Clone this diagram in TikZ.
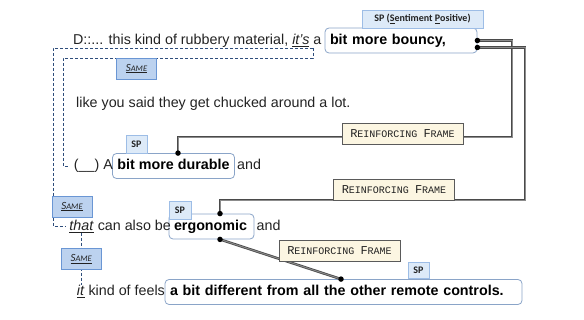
\documentclass[tikz,border=0pt]{standalone}
\usepackage{fontspec}
\setmainfont{Liberation Sans}
\newfontfamily\tagfont{Carlito}
\newfontfamily\framefont{Liberation Mono}
\usetikzlibrary{positioning}

\definecolor{txtcol}{HTML}{222222}
\definecolor{boxedge}{HTML}{8AA4C8}
\definecolor{spfill}{HTML}{DDEAF8}
\definecolor{spedge}{HTML}{9DBDE6}
\definecolor{samefill}{HTML}{BCD2EF}
\definecolor{sameedge}{HTML}{6A96D4}
\definecolor{samedash}{HTML}{2E4D7B}
\definecolor{rffill}{HTML}{FCF6E2}
\definecolor{rfedge}{HTML}{5A5A5A}
\definecolor{linkdark}{HTML}{4A4A4A}
\definecolor{linklight}{HTML}{8C8C8C}

\newcommand{\rfname}{{\framefont\fontsize{12}{12}\selectfont R\fontsize{10}{12}\selectfont EINFORCING \fontsize{12}{12}\selectfont F\fontsize{10}{12}\selectfont RAME}}
\newcommand{\samename}{{\tagfont\itshape\underline{\fontsize{11}{12}\selectfont S\fontsize{8.5}{12}\selectfont AME}}}

\tikzset{
  txt/.style={inner sep=0pt, text=txtcol, font=\fontsize{14.3}{16}\selectfont},
  spbox/.style={draw=boxedge, line width=0.8pt, rounded corners=4pt, fill=white,
    inner xsep=5pt, inner ysep=5.75pt, text height=10.5pt, text depth=3pt,
    align=left, text=black, font=\bfseries\fontsize{14.3}{16}\selectfont},
  sptag/.style={draw=spedge, fill=spfill, line width=0.6pt, inner sep=0pt,
    minimum height=18pt, text=txtcol, font=\tagfont\bfseries\fontsize{10}{12}\selectfont},
  sametag/.style={draw=sameedge, fill=samefill, line width=0.6pt, solid, inner sep=0pt,
    minimum width=40pt, minimum height=21pt, text=txtcol},
  rftag/.style={draw=rfedge, fill=rffill, line width=0.6pt, inner sep=0pt,
    minimum width=121pt, minimum height=21pt, text=txtcol},
  rflink/.style={draw=linkdark, double=linklight, double distance=0.9pt, line width=0.8pt},
  samelink/.style={draw=samedash, line width=0.7pt, dash pattern=on 3pt off 2pt},
  tipdot/.style={circle, fill=black, inner sep=0pt, minimum size=5.5pt},
}

\begin{document}
\begin{tikzpicture}[x=1pt, y=-1pt]
\useasboundingbox (0,0) rectangle (584,320);

% phrase boxes
\node[spbox, text width=142pt] (bouncy) at (401,40.5) {bit more bouncy,};
\node[spbox, minimum width=121pt] (durable) at (173.5,166) {bit more durable};
\node[spbox, text width=75pt] (ergo) at (211.5,226.5) {ergonomic};
\node[spbox, text width=347pt] (diff) at (343.5,292) {a bit different from all the other remote controls.};

% running text
\node[txt, anchor=base east] (l1) at ([xshift=-3pt]bouncy.base west) {D::... this kind of rubbery material, \underline{\textit{it's}} a};
\node[txt, anchor=base west] (l2) at (76,108) {like you said they get chucked around a lot.};
\node[txt, anchor=base east] (l3) at ([xshift=1pt]durable.base west) {(\_\_) A};
\node[txt, anchor=base west] (and1) at ([xshift=2pt]durable.base east) {and};
\node[txt, anchor=base east] (l4) at ([xshift=2.5pt]ergo.base west) {\underline{\textit{that}} can also be};
\node[txt, anchor=base west] (and2) at ([xshift=2pt]ergo.base east) {and};
\node[txt, anchor=base east] (l5) at ([xshift=0.5pt]diff.base west) {\underline{\textit{it}} kind of feels};

% sentiment tags
\node[sptag, minimum width=121pt] (sp1) at (422.5,19) {SP (\underline{S}entiment \underline{P}ositive)};
\node[sptag, minimum width=21pt] (sp2) at (136.5,144) {SP};
\node[sptag, minimum width=22pt] (sp3) at (180,210) {SP};
\node[sptag, minimum width=21pt, minimum height=16pt] (sp4) at (418.5,270) {SP};

% reinforcing frames
\coordinate (b1) at (bouncy.east);
\coordinate (b2) at ([yshift=-7pt]bouncy.east);
\coordinate (d1) at ([xshift=4.5pt]durable.north);
\coordinate (e1) at ([xshift=8.5pt]ergo.north);
\coordinate (e2) at ([xshift=8.5pt]ergo.south);
\coordinate (f1) at ([xshift=-2.5pt]diff.north);

\draw[rflink] (b1) -| (512,137) -| (d1);
\draw[rflink] (b2) -| (525,200) -| (e1);
\draw[rflink] (e2) -- (f1);

\node[rftag] (rf1) at (402.5,133.5) {\rfname};
\node[rftag] (rf2) at (394,190) {\rfname};
\node[rftag] (rf3) at (339.5,250.5) {\rfname};

\foreach \p in {b1,b2,d1,e1,e2,f1}
  \node[tipdot] at (\p) {};

% same-referent links
\coordinate (its) at (313,48);
\draw[samelink] (its) -- (53,48) |- ([xshift=-4pt]l4.west);
\draw[samelink] (its) -- (313,58) -- (63,58) |- ([xshift=-5pt]l3.west);
\draw[samelink] ([xshift=12pt]l4.south west) -- ([xshift=12pt]l4.south west |- l5.north)
  node[midway, sametag] (same3) {\samename};

\node[sametag] (same1) at (136.5,68.5) {\samename};
\node[sametag] (same2) at (72,206.5) {\samename};

\end{tikzpicture}
\end{document}
